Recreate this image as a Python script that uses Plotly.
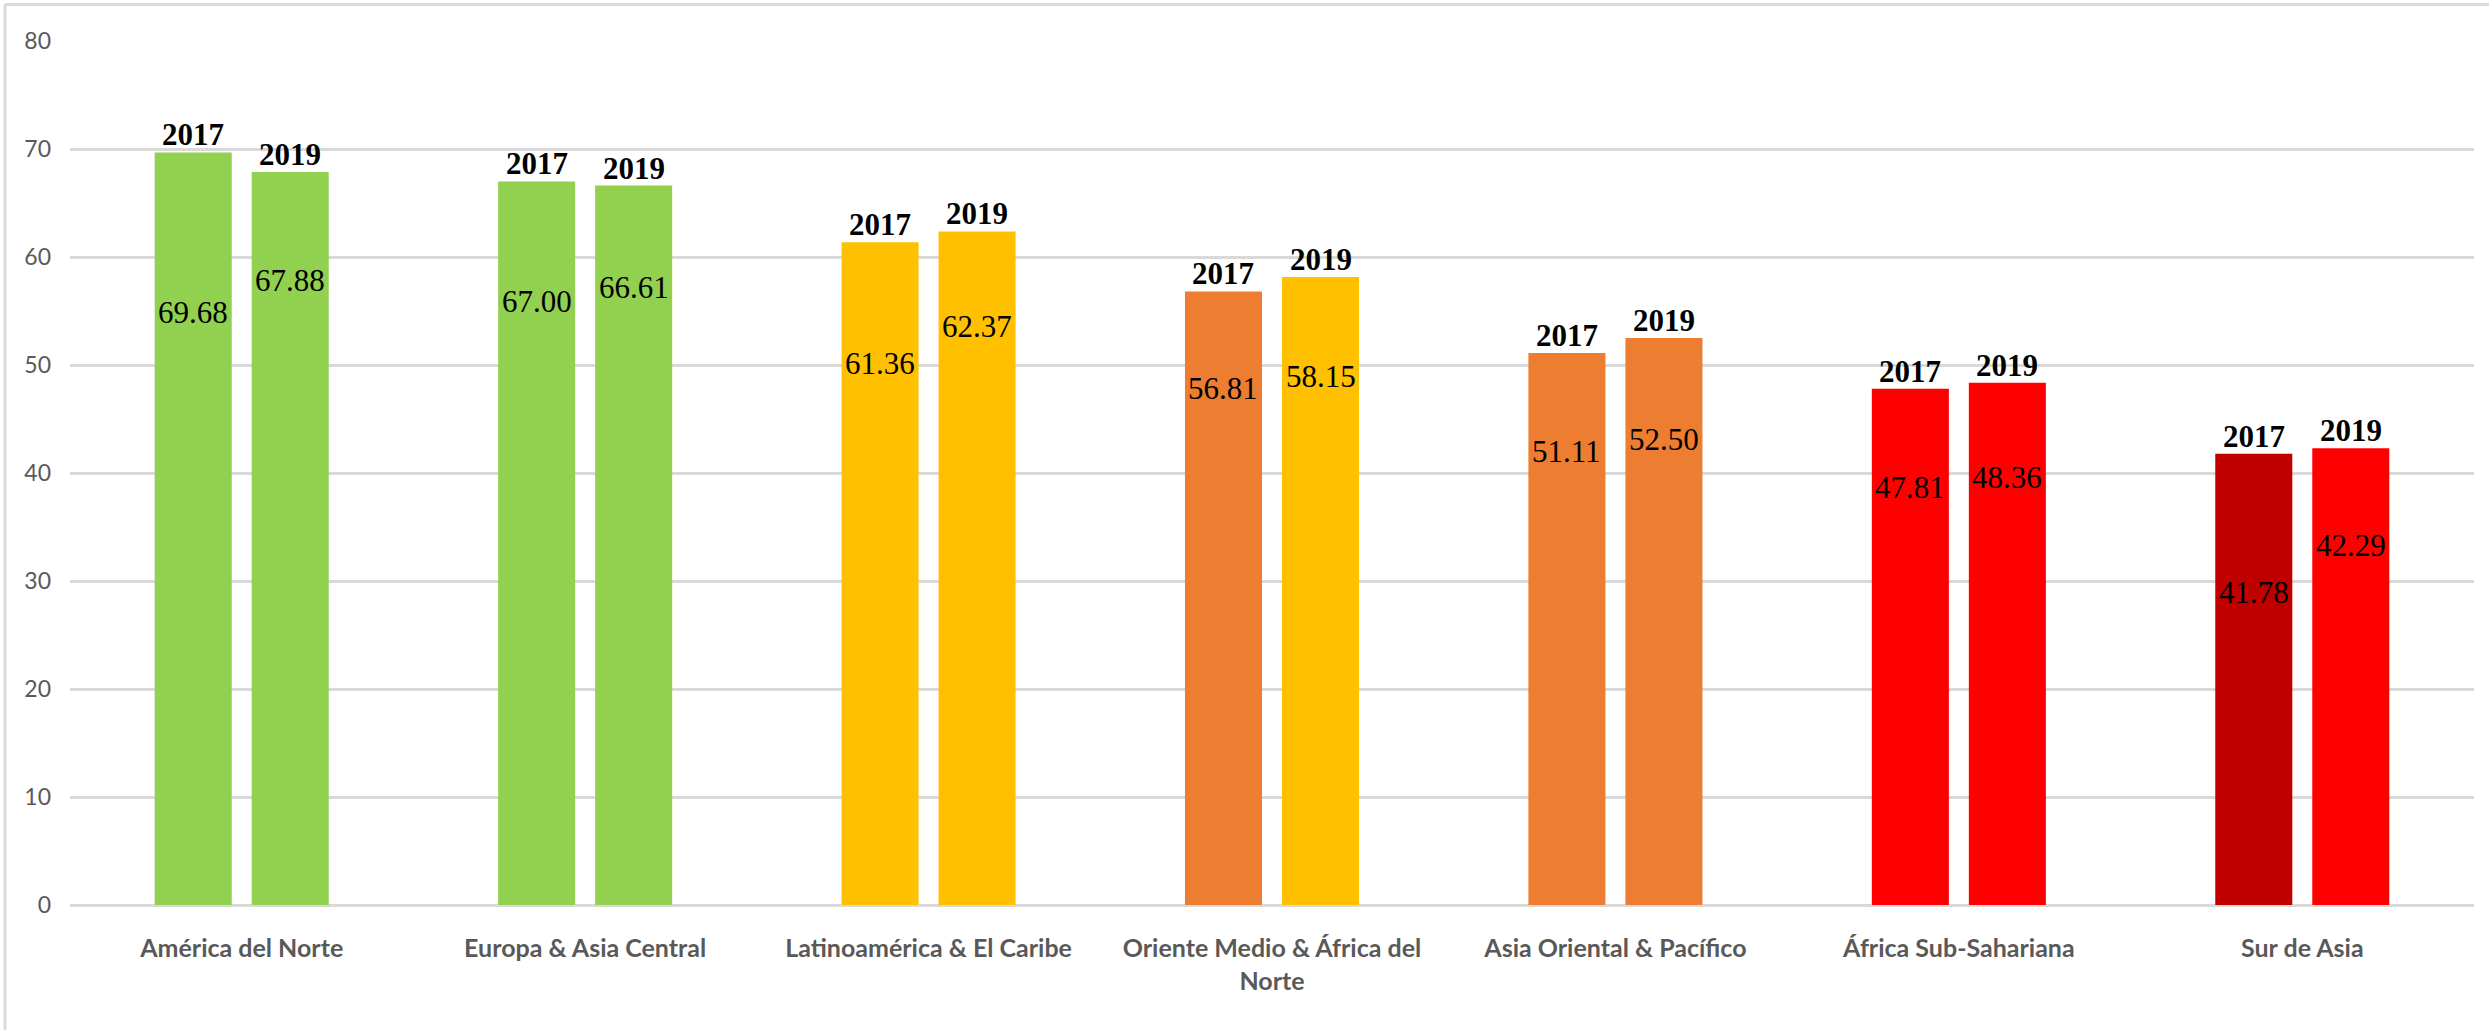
import plotly.graph_objects as go

# ---- data ----
categories = [
    "América del Norte",
    "Europa & Asia Central",
    "Latinoamérica & El Caribe",
    "Oriente Medio & África del<br>Norte",
    "Asia Oriental & Pacífico",
    "África Sub-Sahariana",
    "Sur de Asia",
]
years = ["2017", "2019"]
values_2017 = [69.68, 67.00, 61.36, 56.81, 51.11, 47.81, 41.78]
values_2019 = [67.88, 66.61, 62.37, 58.15, 52.50, 48.36, 42.29]
# where each value label sits (in axis units)
label_y_2017 = [54.9, 55.9, 50.1, 47.8, 42.0, 38.7, 28.9]
label_y_2019 = [57.8, 57.2, 53.6, 48.9, 43.1, 39.6, 33.3]
colors_2017 = ["#92D050", "#92D050", "#FFC000", "#ED7D31", "#ED7D31", "#FF0000", "#C00000"]
colors_2019 = ["#92D050", "#92D050", "#FFC000", "#FFC000", "#ED7D31", "#FF0000", "#FF0000"]
y_ticks = [0, 10, 20, 30, 40, 50, 60, 70, 80]

W, H = 2489, 1030
ML, MR, MT, MB = 70, 15, 41, 125
plot_w = W - ML - MR
plot_h = H - MT - MB
cat_w = plot_w / len(categories)
BARGAP = 0.435
GROUPGAP = 0.206
slot = (1 - BARGAP) * cat_w / 2
offsets = [-slot / 2, slot / 2]

fig = go.Figure()
for name, vals, cols in [(years[0], values_2017, colors_2017), (years[1], values_2019, colors_2019)]:
    fig.add_trace(go.Bar(
        x=categories, y=vals, name=name,
        marker=dict(color=cols, line=dict(width=0)),
        hoverinfo="x+y",
    ))

serif = "Liberation Serif, Times New Roman, serif"
annotations = []
for i, cat in enumerate(categories):
    for k, (vals, ly) in enumerate([(values_2017, label_y_2017), (values_2019, label_y_2019)]):
        annotations.append(dict(
            x=cat, y=vals[i], xref="x", yref="y", text="<b>%s</b>" % years[k],
            showarrow=False, xanchor="center", yanchor="bottom",
            xshift=offsets[k], yshift=-2,
            font=dict(family=serif, size=31, color="#000000"),
        ))
        annotations.append(dict(
            x=cat, y=ly[i], xref="x", yref="y", text="%.2f" % vals[i],
            showarrow=False, xanchor="center", yanchor="middle",
            xshift=offsets[k],
            font=dict(family=serif, size=31, color="#000000"),
        ))

# outer chart frame (left and top edges visible)
fx0 = (5 - ML) / plot_w
fy1 = (H - MB - 4.5) / plot_h
shapes = [
    dict(type="line", xref="paper", yref="paper", x0=fx0, x1=fx0, y0=fy1, y1=-0.2,
         line=dict(color="#D9D9D9", width=3)),
    dict(type="line", xref="paper", yref="paper", x0=fx0, x1=1.02, y0=fy1, y1=fy1,
         line=dict(color="#D9D9D9", width=3)),
]

sans = "Lato, Open Sans, sans-serif"
fig.update_layout(
    width=W, height=H,
    margin=dict(l=ML, r=MR, t=MT, b=MB, pad=0),
    barmode="group", bargap=BARGAP, bargroupgap=GROUPGAP,
    plot_bgcolor="#FFFFFF", paper_bgcolor="#FFFFFF",
    showlegend=False,
    annotations=annotations,
    shapes=shapes,
    xaxis=dict(
        type="category", automargin=False,
        showgrid=False, showline=False, ticks="",
        tickfont=dict(family=sans, size=25, color="#595959", weight="bold"),
        ticklabelstandoff=26,
    ),
    yaxis=dict(
        range=[0, 80], tickvals=y_ticks, ticktext=[str(t) for t in y_ticks],
        automargin=False,
        showgrid=True, gridcolor="#D9D9D9", gridwidth=2.5,
        zeroline=True, zerolinecolor="#D9D9D9", zerolinewidth=3,
        showline=False, ticks="",
        tickfont=dict(family=sans, size=23, color="#595959"),
        ticklabelstandoff=18,
    ),
)

fig.write_html(
    "out.html",
    config={"displayModeBar": False},
    post_script="document.body.style.margin='0';document.body.style.overflow='hidden';",
)
